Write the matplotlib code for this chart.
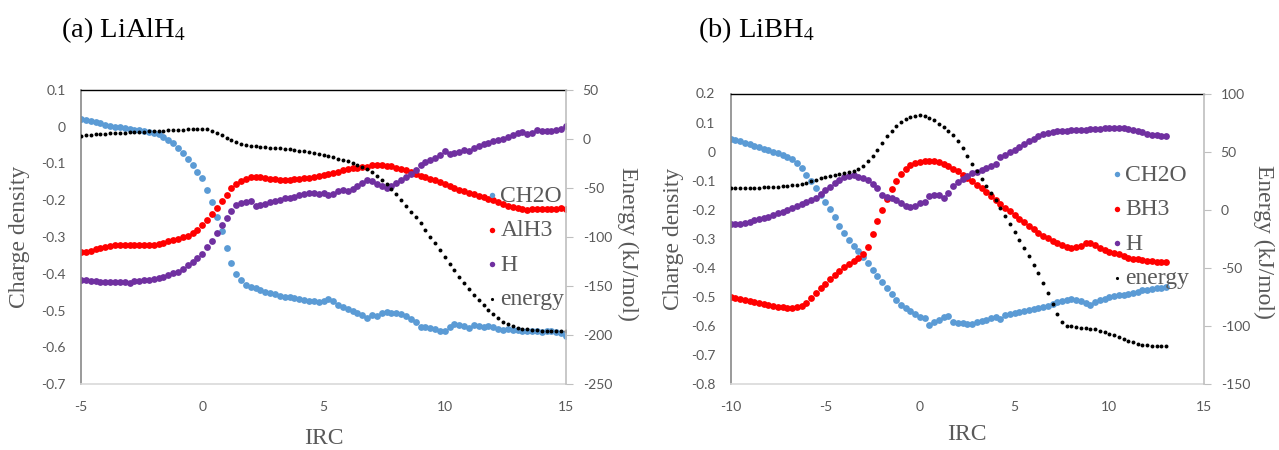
import numpy as np
import matplotlib.pyplot as plt

plt.rcParams['font.family'] = ['Lato', 'DejaVu Sans']
plt.rcParams['axes.unicode_minus'] = False
plt.rcParams['mathtext.fontset'] = 'stix'

# IRC sampling of the two runs
irc_a = np.linspace(-5, 15, 101)   # step 0.2
irc_b = np.linspace(-10, 13, 93)   # step 0.25

# (a) LiAlH4 : charge densities and energy (kJ/mol)
ch2o_a = [0.020, 0.018, 0.015, 0.012, 0.009, 0.006, 0.003, 0.000, -0.002, -0.004,
          -0.006, -0.008, -0.010, -0.012, -0.014, -0.017, -0.021, -0.027, -0.035, -0.045,
          -0.058, -0.072, -0.088, -0.105, -0.122, -0.140, -0.172, -0.205, -0.245, -0.285,
          -0.330, -0.370, -0.400, -0.418, -0.430, -0.436, -0.440, -0.445, -0.449, -0.452,
          -0.456, -0.460, -0.462, -0.464, -0.466, -0.469, -0.471, -0.473, -0.474, -0.476,
          -0.474, -0.470, -0.474, -0.484, -0.490, -0.495, -0.500, -0.506, -0.512, -0.520,
          -0.512, -0.516, -0.508, -0.504, -0.506, -0.507, -0.510, -0.514, -0.522, -0.532,
          -0.546, -0.545, -0.548, -0.550, -0.555, -0.556, -0.544, -0.538, -0.540, -0.542,
          -0.548, -0.540, -0.543, -0.545, -0.542, -0.546, -0.550, -0.552, -0.551, -0.554,
          -0.553, -0.556, -0.555, -0.557, -0.556, -0.558, -0.557, -0.556, -0.558, -0.562,
          -0.570]
alh3_a = [-0.342, -0.340, -0.337, -0.333, -0.329, -0.327, -0.325, -0.323, -0.322, -0.321,
          -0.322, -0.321, -0.322, -0.321, -0.322, -0.321, -0.318, -0.315, -0.312, -0.309,
          -0.305, -0.300, -0.296, -0.290, -0.280, -0.268, -0.255, -0.238, -0.220, -0.202,
          -0.185, -0.168, -0.155, -0.147, -0.142, -0.137, -0.136, -0.138, -0.140, -0.142,
          -0.143, -0.144, -0.145, -0.144, -0.143, -0.142, -0.140, -0.139, -0.137, -0.134,
          -0.131, -0.128, -0.125, -0.122, -0.119, -0.116, -0.113, -0.111, -0.110, -0.109,
          -0.105, -0.103, -0.104, -0.106, -0.108, -0.111, -0.115, -0.119, -0.124, -0.128,
          -0.133, -0.137, -0.141, -0.146, -0.151, -0.157, -0.162, -0.167, -0.172, -0.176,
          -0.180, -0.184, -0.188, -0.192, -0.196, -0.200, -0.205, -0.210, -0.215, -0.219,
          -0.222, -0.224, -0.226, -0.224, -0.224, -0.225, -0.224, -0.223, -0.224, -0.222,
          -0.225]
h_a = [-0.418, -0.418, -0.419, -0.421, -0.423, -0.423, -0.423, -0.423, -0.423, -0.422,
       -0.424, -0.421, -0.419, -0.418, -0.416, -0.414, -0.411, -0.409, -0.404, -0.399,
       -0.394, -0.388, -0.375, -0.367, -0.358, -0.345, -0.328, -0.310, -0.290, -0.268,
       -0.248, -0.228, -0.214, -0.207, -0.204, -0.203, -0.216, -0.213, -0.209, -0.205,
       -0.202, -0.199, -0.195, -0.193, -0.190, -0.187, -0.184, -0.180, -0.180, -0.182,
       -0.180, -0.186, -0.184, -0.174, -0.172, -0.175, -0.170, -0.160, -0.152, -0.145,
       -0.148, -0.155, -0.162, -0.168, -0.160, -0.152, -0.146, -0.138, -0.128, -0.118,
       -0.103, -0.096, -0.091, -0.084, -0.076, -0.066, -0.074, -0.072, -0.070, -0.062,
       -0.066, -0.058, -0.052, -0.048, -0.044, -0.040, -0.036, -0.032, -0.027, -0.022,
       -0.016, -0.013, -0.020, -0.017, -0.010, -0.011, -0.012, -0.012, -0.009, -0.006,
       0.003]
energy_a = [3.5, 4.0, 4.4, 4.8, 5.1, 5.4, 5.7, 6.0, 6.3, 6.5,
            6.8, 7.0, 7.3, 7.5, 7.8, 8.0, 8.3, 8.5, 8.8, 9.0,
            9.3, 9.5, 9.8, 10.0, 10.3, 10.6, 10.3, 8.5, 6.5, 4.0,
            1.0, -1.5, -3.5, -5.2, -6.3, -7.0, -7.6, -8.0, -8.4, -8.8,
            -9.2, -9.6, -10.1, -10.6, -11.2, -11.8, -12.6, -13.4, -14.3, -15.3,
            -16.4, -17.5, -18.7, -20.0, -21.4, -22.9, -24.6, -26.5, -28.6, -31.0,
            -34.0, -37.5, -41.5, -46.0, -51.0, -56.5, -62.0, -68.0, -74.0, -80.0,
            -86.0, -92.5, -99.5, -106.5, -113.5, -120.5, -127.5, -134.0, -140.5, -147.0,
            -153.0, -159.0, -164.5, -169.5, -174.5, -179.0, -183.0, -186.5, -189.0, -191.0,
            -192.5, -193.5, -194.3, -194.8, -195.2, -195.5, -195.7, -195.8, -195.9, -196.0,
            -196.0]

# (b) LiBH4
ch2o_b = [0.045, 0.040, 0.035, 0.030, 0.025, 0.020, 0.015, 0.010,
          0.005, 0.000, -0.005, -0.011, -0.018, -0.027, -0.040, -0.058,
          -0.080, -0.102, -0.125, -0.150, -0.175, -0.198, -0.225, -0.255,
          -0.280, -0.305, -0.325, -0.342, -0.362, -0.385, -0.408, -0.428,
          -0.450, -0.470, -0.490, -0.510, -0.527, -0.540, -0.550, -0.558,
          -0.568, -0.574, -0.597, -0.588, -0.580, -0.568, -0.566, -0.585,
          -0.589, -0.591, -0.592, -0.594, -0.588, -0.582, -0.578, -0.574,
          -0.570, -0.576, -0.562, -0.560, -0.555, -0.551, -0.548, -0.545,
          -0.541, -0.538, -0.535, -0.531, -0.525, -0.519, -0.514, -0.510,
          -0.508, -0.510, -0.514, -0.522, -0.528, -0.518, -0.512, -0.506,
          -0.502, -0.498, -0.495, -0.492, -0.490, -0.487, -0.482, -0.478,
          -0.475, -0.472, -0.470, -0.468, -0.466]
bh3_b = [-0.500, -0.503, -0.507, -0.511, -0.516, -0.519, -0.522, -0.525,
         -0.528, -0.531, -0.534, -0.536, -0.537, -0.537, -0.536, -0.530,
         -0.520, -0.505, -0.487, -0.470, -0.455, -0.440, -0.425, -0.410,
         -0.398, -0.388, -0.378, -0.367, -0.352, -0.328, -0.285, -0.240,
         -0.200, -0.163, -0.128, -0.100, -0.077, -0.060, -0.047, -0.039,
         -0.035, -0.033, -0.032, -0.034, -0.037, -0.043, -0.051, -0.059,
         -0.068, -0.079, -0.090, -0.101, -0.114, -0.127, -0.140, -0.152,
         -0.165, -0.179, -0.193, -0.206, -0.219, -0.231, -0.243, -0.255,
         -0.268, -0.279, -0.290, -0.299, -0.307, -0.315, -0.322, -0.328,
         -0.331, -0.328, -0.326, -0.316, -0.315, -0.322, -0.332, -0.340,
         -0.344, -0.348, -0.354, -0.360, -0.366, -0.369, -0.370, -0.373,
         -0.375, -0.378, -0.379, -0.380, -0.380]
h_b = [-0.248, -0.250, -0.249, -0.245, -0.241, -0.237, -0.233, -0.229,
       -0.224, -0.219, -0.213, -0.207, -0.201, -0.195, -0.187, -0.180,
       -0.173, -0.167, -0.160, -0.146, -0.133, -0.121, -0.109, -0.097,
       -0.089, -0.084, -0.082, -0.086, -0.090, -0.099, -0.112, -0.124,
       -0.148, -0.158, -0.160, -0.168, -0.178, -0.187, -0.192, -0.186,
       -0.178, -0.173, -0.152, -0.150, -0.150, -0.160, -0.142, -0.120,
       -0.106, -0.094, -0.083, -0.075, -0.069, -0.064, -0.058, -0.051,
       -0.044, -0.020, -0.010, -0.002, 0.006, 0.015, 0.026, 0.036,
       0.045, 0.053, 0.059, 0.064, 0.068, 0.070, 0.071, 0.072,
       0.073, 0.074, 0.075, 0.076, 0.077, 0.078, 0.079, 0.080,
       0.080, 0.081, 0.082, 0.082, 0.078, 0.074, 0.070, 0.066,
       0.062, 0.058, 0.056, 0.055, 0.054]
energy_b = [18.5, 18.6, 18.7, 18.8, 18.9, 19.0, 19.1, 19.2,
            19.4, 19.6, 19.8, 20.1, 20.5, 21.0, 21.6, 22.4,
            23.4, 24.5, 25.7, 27.0, 28.2, 29.2, 30.0, 30.7,
            31.4, 32.3, 33.5, 35.2, 37.8, 41.5, 46.3, 51.8,
            57.5, 63.0, 68.0, 72.3, 75.8, 78.3, 80.0, 81.0,
            81.3, 80.8, 79.3, 76.8, 73.5, 71.0, 67.8, 64.0,
            59.5, 53.5, 46.5, 39.5, 33.0, 26.5, 20.5, 14.4,
            8.2, 1.7, -5.2, -12.2, -19.2, -26.2, -33.0, -40.2,
            -47.3, -54.8, -63.0, -71.8, -81.0, -90.0, -96.8, -99.8,
            -100.5, -101.0, -101.4, -101.8, -102.3, -103.0, -104.0, -105.3,
            -106.7, -108.2, -109.8, -111.4, -112.8, -114.1, -115.2, -116.1,
            -116.7, -117.1, -117.3, -117.4, -117.4]

SERIF = 'Liberation Serif'
GREY = '#595959'
BLUE, RED, PURPLE = '#5b9bd5', '#ff0000', '#7030a0'
W, H = 1279, 450

fig = plt.figure(figsize=(W / 100, H / 100), dpi=100)


def box(x0, y0, x1, y1):
    # pixel box -> figure fraction rect
    return [x0 / W, 1 - y1 / H, (x1 - x0) / W, (y1 - y0) / H]


def fmt(v, pos):
    return f'{round(v, 2) + 0:g}'


def panel(rect, irc, charge, energy, xlim, xticks, yticks, eticks, leg_xy):
    ax = fig.add_axes(rect)
    ax2 = ax.twinx()
    handles = []
    for name, vals, col in charge:
        handles.append(ax.scatter(irc, vals, s=24, color=col, linewidths=0, label=name))
    handles.append(ax2.scatter(irc, energy, s=8, color='black', linewidths=0, label='energy'))

    ax.set_xlim(*xlim)
    ax.set_xticks(xticks)
    ax.set_ylim(yticks[0], yticks[-1])
    ax.set_yticks(yticks)
    ax.yaxis.set_major_formatter(fmt)
    ax2.set_ylim(eticks[0], eticks[-1])
    ax2.set_yticks(eticks)
    ax2.yaxis.set_major_formatter(fmt)

    ax.tick_params(axis='both', length=0, labelsize=10, labelcolor=GREY)
    ax.tick_params(axis='y', pad=11)
    ax.tick_params(axis='x', pad=12)
    ax2.tick_params(axis='y', length=5, width=0.8, color='#bfbfbf', direction='out',
                    pad=7, labelsize=10, labelcolor=GREY)

    ax.spines['right'].set_visible(False)
    ax.spines['top'].set_color('black')
    ax.spines['top'].set_linewidth(1.0)
    ax.spines['left'].set_color('#898989')
    ax.spines['left'].set_linewidth(1.2)
    ax.spines['bottom'].set_color('#d9d9d9')
    ax.spines['bottom'].set_linewidth(1.2)
    for s in ['top', 'left', 'bottom']:
        ax2.spines[s].set_visible(False)
    ax2.spines['right'].set_color('#bfbfbf')
    ax2.spines['right'].set_linewidth(1.2)

    leg = ax2.legend(handles, [h.get_label() for h in handles], loc='upper left',
                     bbox_to_anchor=leg_xy, bbox_transform=fig.transFigure,
                     frameon=False, borderpad=0, borderaxespad=0, handlelength=0.3,
                     handletextpad=0.2, labelspacing=0.55, scatterpoints=1,
                     markerscale=0.8, prop={'family': SERIF, 'size': 17})
    for t in leg.get_texts():
        t.set_color(GREY)
    return ax


panel(box(81, 90, 566, 384), irc_a,
      [('CH2O', ch2o_a, BLUE), ('AlH3', alh3_a, RED), ('H', h_a, PURPLE)], energy_a,
      (-5, 15), [-5, 0, 5, 10, 15],
      [-0.7, -0.6, -0.5, -0.4, -0.3, -0.2, -0.1, 0, 0.1],
      [-250, -200, -150, -100, -50, 0, 50],
      (488.5 / W, 1 - 185 / H))

panel(box(730.6, 93.5, 1204, 384), irc_b,
      [('CH2O', ch2o_b, BLUE), ('BH3', bh3_b, RED), ('H', h_b, PURPLE)], energy_b,
      (-10, 15), [-10, -5, 0, 5, 10, 15],
      [-0.8, -0.7, -0.6, -0.5, -0.4, -0.3, -0.2, -0.1, 0, 0.1, 0.2],
      [-150, -100, -50, 0, 50, 100],
      (1113.5 / W, 1 - 164 / H))

# panel titles and axis labels
lab = dict(family=SERIF, fontsize=17, color=GREY, ha='center', va='center')
fig.text(61 / W, 1 - 30 / H, '(a) LiAlH$_4$', family=SERIF, fontsize=20.5, va='center')
fig.text(698 / W, 1 - 30 / H, '(b) LiBH$_4$', family=SERIF, fontsize=20.5, va='center')
fig.text(20 / W, 1 - 237 / H, 'Charge density', rotation=90, **lab)
fig.text(673 / W, 1 - 238.5 / H, 'Charge density', rotation=90, **lab)
fig.text(628 / W, 1 - 244 / H, 'Energy (kJ/mol)', rotation=-90, **lab)
fig.text(1264 / W, 1 - 242 / H, 'Energy (kJ/mol)', rotation=-90, **lab)
fig.text(324 / W, 1 - 438 / H, 'IRC', **lab)
fig.text(967 / W, 1 - 434 / H, 'IRC', **lab)

fig.savefig('out.png', dpi=100)
